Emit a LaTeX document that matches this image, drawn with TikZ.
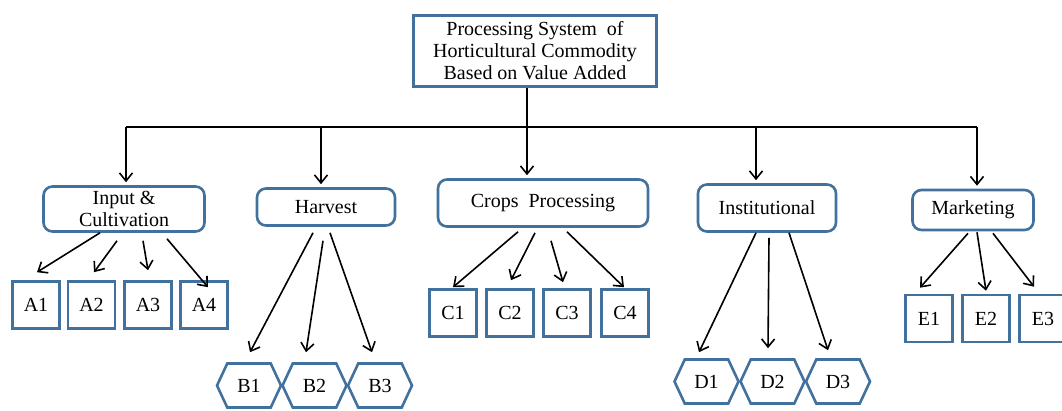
\documentclass[tikz,border=0pt]{standalone}
\usepackage{fontspec}
\setmainfont{Liberation Serif}
\usetikzlibrary{arrows.meta,shapes.symbols}
\definecolor{boxblue}{RGB}{65,113,156}
\tikzset{
  titlebox/.style={draw=boxblue, line width=2.8pt, align=center, inner sep=0pt},
  groupbox/.style={draw=boxblue, line width=2.6pt, rounded corners=9pt, align=center, inner sep=0pt},
  leafbox/.style={draw=boxblue, line width=2.6pt, minimum width=47pt, minimum height=47pt, inner sep=0pt},
  leafhex/.style={draw=boxblue, line width=2.6pt, shape=signal, signal to=west and east,
    signal pointer angle=130, minimum width=64pt, minimum height=44pt, inner sep=0pt},
  link/.style={-{Straight Barb[length=8pt,width=13pt,line width=1.6pt]}, line width=1.6pt},
}

\begin{document}
\begin{tikzpicture}[x=1pt,y=-1pt,font=\fontsize{20}{22}\selectfont]
\useasboundingbox (0,0) rectangle (1062,410);
\clip (0,0) rectangle (1062,410);

\node[titlebox, minimum width=243pt, minimum height=71pt] (top) at (535,51) {Processing System~ of\\Horticultural Commodity\\Based on Value Added};

% second level
\node[groupbox, minimum width=161pt, minimum height=45pt] (input) at (124,209) {Input \&\\Cultivation};
\node[groupbox, minimum width=138pt, minimum height=37pt] (harvest) at (326,207) {Harvest};
\node[groupbox, minimum width=210pt, minimum height=47pt] (crops) at (543,203) {Crops~ Processing};
\node[groupbox, minimum width=138pt, minimum height=47pt] (inst) at (767,208) {Institutional};
\node[groupbox, minimum width=121pt, minimum height=40pt] (market) at (973,210) {Marketing};

% bar from the title
\coordinate (bar1) at (126,127);
\coordinate (bar2) at (321,127);
\coordinate (bar3) at (527,127);
\coordinate (bar4) at (756,127);
\coordinate (bar5) at (977,127);
\draw[line width=1.6pt] (bar3 |- top.south) -- (bar3);
\draw[line width=1.6pt] (bar1) -- (bar5);
\draw[link, shorten >=3pt] (bar1) -- (bar1 |- input.north);
\draw[link, shorten >=3pt] (bar2) -- (bar2 |- harvest.north);
\draw[link, shorten >=3pt] (bar3) -- (bar3 |- crops.north);
\draw[link, shorten >=3pt] (bar4) -- (bar4 |- inst.north);
\draw[link, shorten >=3pt] (bar5) -- (bar5 |- market.north);

% leaves
\node[leafbox] (A1) at (36,305) {A1};
\node[leafbox] (A2) at (91.5,305) {A2};
\node[leafbox] (A3) at (148,305) {A3};
\node[leafbox] (A4) at (204,305) {A4};

\node[leafhex] (B1) at (249,385.5) {B1};
\node[leafhex] (B2) at (314.5,385.5) {B2};
\node[leafhex] (B3) at (380,385.5) {B3};

\node[leafbox] (C1) at (453,313) {C1};
\node[leafbox] (C2) at (510,313) {C2};
\node[leafbox] (C3) at (567,313) {C3};
\node[leafbox] (C4) at (625,313) {C4};

\node[leafhex] (D1) at (706.5,381.5) {D1};
\node[leafhex] (D2) at (772.5,381.5) {D2};
\node[leafhex] (D3) at (838,381.5) {D3};

\node[leafbox] (E1) at (929,318.5) {E1};
\node[leafbox] (E2) at (986,318.5) {E2};
\node[leafbox] (E3) at (1043,318.5) {E3};

% arrows to leaves
\draw[link] ([xshift=-24pt]input.south) -- ([xshift=1pt,yshift=8pt]A1.north);
\draw[link] ([xshift=-7pt,yshift=-8pt]input.south) -- ([xshift=2.5pt,yshift=8pt]A2.north);
\draw[link] ([xshift=19pt,yshift=-8pt]input.south) -- ([yshift=10pt]A3.north);
\draw[link] ([xshift=43pt,yshift=-6pt]input.south) -- ([xshift=4pt,yshift=-7pt]A4.north);

\draw[link] ([xshift=-13pt,yshift=-6pt]harvest.south) -- ([xshift=1pt,yshift=10pt]B1.north);
\draw[link] ([xshift=-3pt,yshift=-14pt]harvest.south) -- ([xshift=-8.5pt,yshift=10pt]B2.north);
\draw[link] ([xshift=4pt,yshift=-6pt]harvest.south) -- ([xshift=-8pt,yshift=10pt]B3.north);

\draw[link] ([xshift=-25pt,yshift=-4pt]crops.south) -- ([yshift=1pt]C1.north);
\draw[link] ([xshift=-8pt,yshift=-5pt]crops.south) -- ([xshift=1pt,yshift=8pt]C2.north);
\draw[link] ([xshift=8pt,yshift=-13pt]crops.south) -- ([xshift=-4pt,yshift=6pt]C3.north);
\draw[link] ([xshift=24pt,yshift=-4pt]crops.south) -- ([xshift=-1pt,yshift=1pt]C4.north);

\draw[link] ([xshift=-11pt]inst.south) -- ([xshift=-7.5pt,yshift=6pt]D1.north);
\draw[link] ([xshift=2pt,yshift=-5pt]inst.south) -- ([xshift=-4.5pt,yshift=10pt]D2.north);
\draw[link] ([xshift=22pt]inst.south) -- ([xshift=-10pt,yshift=8pt]D3.north);

\draw[link] ([xshift=-5pt,yshift=-2pt]market.south) -- ([xshift=-9pt,yshift=6pt]E1.north);
\draw[link] ([xshift=4pt,yshift=-1pt]market.south) -- ([yshift=3pt]E2.north);
\draw[link] ([xshift=20pt,yshift=-2pt]market.south) -- ([xshift=-9pt,yshift=7pt]E3.north);
\end{tikzpicture}
\end{document}
